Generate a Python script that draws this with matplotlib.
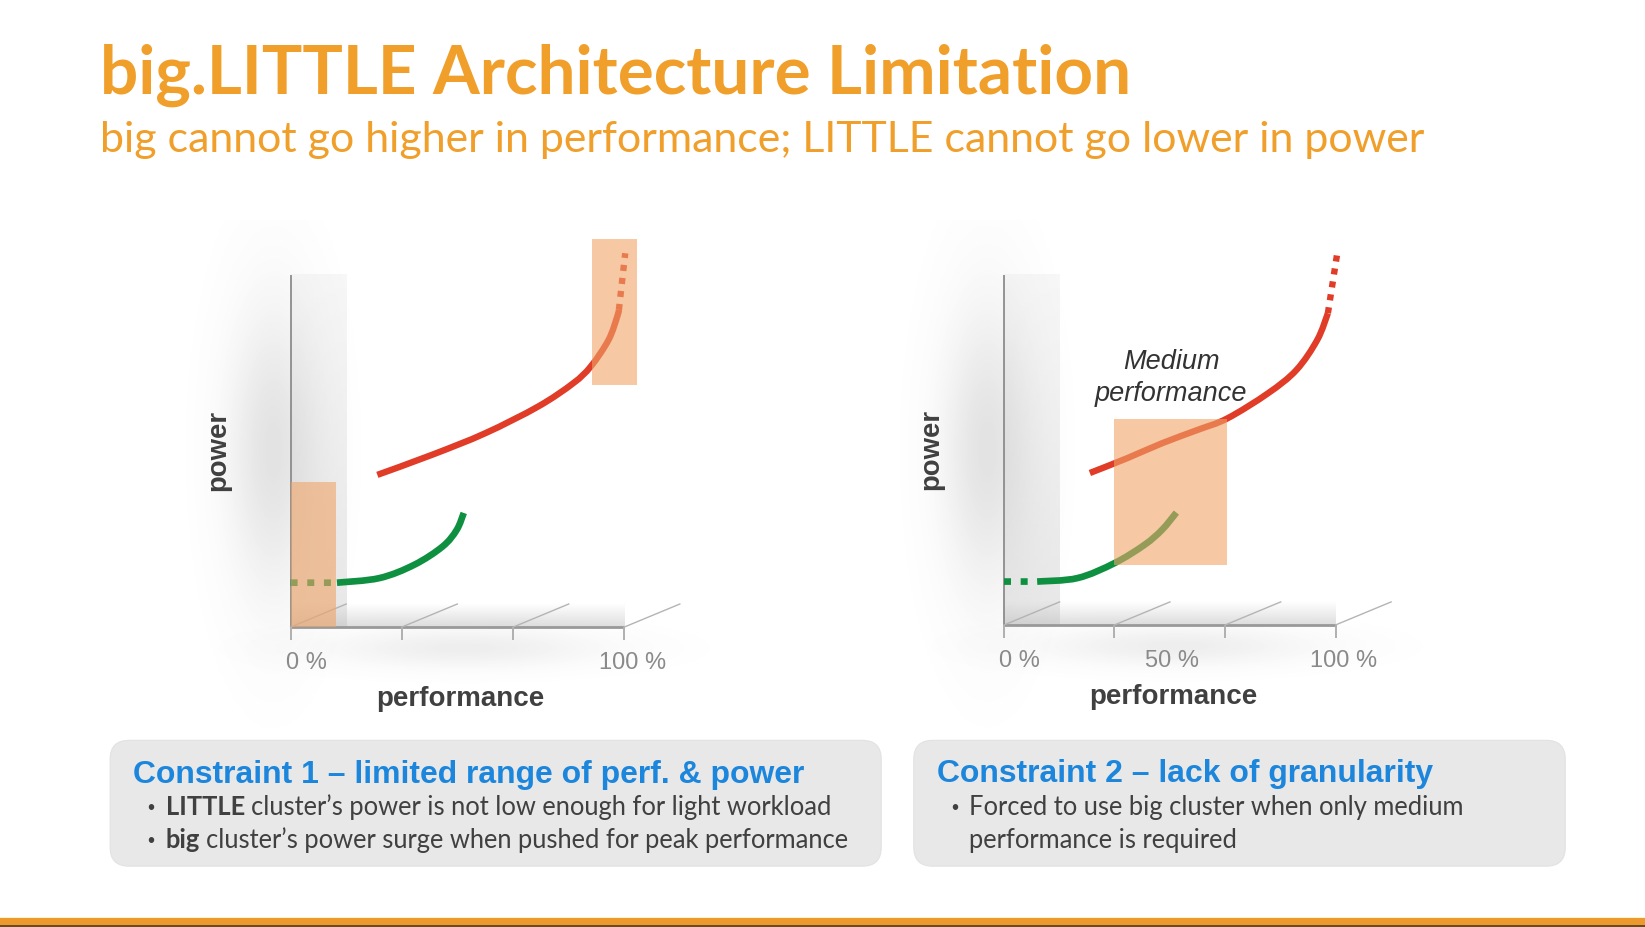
import numpy as np
import matplotlib
matplotlib.use("Agg")
import matplotlib.pyplot as plt
from matplotlib.patches import FancyBboxPatch, Rectangle, PathPatch
from matplotlib.path import Path

# ---------------- data ----------------
TITLE = "big.LITTLE Architecture Limitation"
SUBTITLE = "big cannot go higher in performance; LITTLE cannot go lower in power"
X_LABEL = "performance"
Y_LABEL = "power"
TICKS = [0, 33.3, 66.7, 100]
L_TICK_VALUES = [0, 100]
L_TICK_LABELS = ["0 %", "100 %"]
R_TICK_VALUES = [0, 50, 100]
R_TICK_LABELS = ["0 %", "50 %", "100 %"]

# chart 1 : limited range
L_BIG_PERF = [26.0, 42.4, 58.3, 74.2, 84.7, 90.0, 95.3, 97.9, 98.4]
L_BIG_POWER = [43.2, 48.9, 55.0, 62.6, 69.2, 74.0, 81.5, 88.1, 90.0]
L_BIG_EXT_PERF = [98.4, 100.3]
L_BIG_EXT_POWER = [90.0, 106.1]
L_LITTLE_PERF = [13.9, 26.6, 37.1, 45.6, 49.8, 51.9]
L_LITTLE_POWER = [12.6, 13.9, 17.7, 22.9, 27.6, 32.4]
L_LITTLE_EXT_PERF = [0.0, 13.9]
L_LITTLE_EXT_POWER = [12.6, 12.6]
L_HILITE_PERF = [(0.0, 13.6), (90.3, 103.7)]
L_HILITE_POWER = [(0.0, 41.3), (68.75, 110.1)]

# chart 2 : lack of granularity
R_BIG_PERF = [25.9, 37.1, 47.7, 58.4, 67.4, 79.7, 88.2, 94.5, 97.7]
R_BIG_POWER = [43.4, 47.6, 51.9, 55.7, 59.0, 66.2, 72.8, 81.4, 89.0]
R_BIG_EXT_PERF = [97.7, 100.6]
R_BIG_EXT_POWER = [89.0, 106.6]
R_LITTLE_PERF = [10.0, 22.2, 33.4, 42.4, 47.7, 52.0]
R_LITTLE_POWER = [12.4, 13.4, 17.7, 22.9, 27.2, 32.1]
R_LITTLE_EXT_PERF = [0.0, 10.0]
R_LITTLE_EXT_POWER = [12.4, 12.4]
R_HILITE_PERF = [(33.2, 67.2)]
R_HILITE_POWER = [(17.2, 58.9)]
R_NOTE = ["Medium", "performance"]

BOX1_HEAD = "Constraint 1 \u2013 limited range of perf. & power"
BOX1_LINES = [[("LITTLE", "bold"), ("cluster\u2019s power is not low enough for light workload", "normal")],
              [("big", "bold"), ("cluster\u2019s power surge when pushed for peak performance", "normal")]]
BOX2_HEAD = "Constraint 2 \u2013 lack of granularity"
BOX2_LINES = [[("Forced to use big cluster when only medium", "normal")],
              [("performance is required", "normal")]]

# ---------------- style ----------------
ORANGE = "#F09F2A"
RED = "#E03C28"
GREEN = "#0F9040"
BLUE = "#1C86DC"
DARK = "#404040"
TICKGRAY = "#8A8A8A"
HILITE = "#F0A567"

W, H = 1645, 927
DW, DH = 1568, 884           # layout grid units
SC = W / DW

fig = plt.figure(figsize=(W / 100, H / 100), dpi=100)
fig.patch.set_facecolor("white")
bg = fig.add_axes([0, 0, 1, 1])
bg.set_xlim(0, DW)
bg.set_ylim(DH, 0)
bg.axis("off")
R = fig.canvas.get_renderer()


def width_of(s, fs, weight="normal", family="Lato", style="normal"):
    t = bg.text(0, 0, s, fontsize=fs, fontweight=weight, family=family, fontstyle=style)
    w = t.get_window_extent(R).width / SC
    t.remove()
    return w


def fit_text(x, y, s, target, family="Lato", weight="normal", **kw):
    fs = 30 * target / width_of(s, 30, weight, family)
    return bg.text(x, y, s, fontsize=fs, family=family, fontweight=weight, **kw), fs


# title & subtitle
fit_text(95, 89, TITLE, 982, family="Lato", weight="bold", color=ORANGE, va="baseline")
fit_text(95, 145, SUBTITLE, 1263, family="Lato", weight="normal", color=ORANGE, va="baseline")

# bottom bar
bg.add_patch(Rectangle((0, 874), DW, 1.2, color="#FFF3C8", lw=0))
bg.add_patch(Rectangle((0, 875.2), DW, 7.0, color="#EC9A2E", lw=0))
bg.add_patch(Rectangle((0, 882.2), DW, 1.8, color="#6B4A1E", lw=0))

# constraint boxes
for (x0, x1) in [(105, 840), (871, 1492)]:
    bg.add_patch(FancyBboxPatch((x0, 706), x1 - x0, 120,
                                boxstyle="round,pad=0,rounding_size=18",
                                fc="#E8E8E8", ec="#E2E2E2", lw=0.8, zorder=1))

fit_text(127, 747, BOX1_HEAD, 641, family="Liberation Sans", weight="bold", color=BLUE, va="baseline", zorder=3)
fit_text(893, 746, BOX2_HEAD, 473, family="Liberation Sans", weight="bold", color=BLUE, va="baseline", zorder=3)


def gap(fs):
    return 0.23 * fs * (100 / 72) / SC


def runs_width(runs, fs):
    return sum(width_of(s, fs, w) for s, w in runs) + gap(fs) * (len(runs) - 1)


bullet_fs = 30 * 651 / runs_width(BOX1_LINES[1], 30)


def draw_runs(x, y, runs, fs, bullet=True):
    if bullet:
        bg.text(x + 4, y - 1, "\u2022", fontsize=fs * 0.8, family="Liberation Sans",
                color=DARK, va="baseline", ha="center", zorder=3)
    cx = x + 18
    for s, w in runs:
        bg.text(cx, y, s, fontsize=fs, family="Lato", fontweight=w, color=DARK, va="baseline", zorder=3)
        cx += width_of(s, fs, w) + gap(fs)


draw_runs(140, 777, BOX1_LINES[0], bullet_fs)
draw_runs(140, 809, BOX1_LINES[1], bullet_fs)
draw_runs(906, 777, BOX2_LINES[0], bullet_fs)
draw_runs(906, 809, BOX2_LINES[1], bullet_fs, bullet=False)


# ---------------- charts ----------------
def soft_blob(ax, cx, cy, sx, sy, amax, z=0.5):
    xs = np.linspace(-3, 3, 200)
    X, Y = np.meshgrid(xs, xs)
    a = amax * np.exp(-0.5 * (X ** 2 + Y ** 2))
    img = np.zeros((200, 200, 4))
    img[..., :3] = 0.45
    img[..., 3] = a
    ax.imshow(img, extent=[cx - 3 * sx, cx + 3 * sx, cy - 3 * sy, cy + 3 * sy],
              origin="lower", aspect="auto", zorder=z, interpolation="bilinear")


def smooth_path(xs, ys):
    P = np.column_stack([xs, ys]).astype(float)
    n = len(P)
    verts = [P[0]]
    codes = [Path.MOVETO]
    for i in range(n - 1):
        p0 = P[i - 1] if i > 0 else P[i]
        p1, p2 = P[i], P[i + 1]
        p3 = P[i + 2] if i + 2 < n else P[i + 1]
        verts += [p1 + (p2 - p0) / 6.0, p2 - (p3 - p1) / 6.0, p2]
        codes += [Path.CURVE4] * 3
    return Path(verts, codes)


def curve(ax, xs, ys, color, lw, ls="-"):
    ax.add_patch(PathPatch(smooth_path(xs, ys), fill=False, ec=color, lw=lw, ls=ls,
                           capstyle="butt", joinstyle="round", zorder=3))


def make_chart(region, x0, x100, ybase, ytop, big, big_ext, little, little_ext,
               hl_perf, hl_power, tick_vals, tick_labels):
    rx0, rx1, ry0, ry1 = region
    sx = (x100 - x0) / 100.0
    sy = (ybase - ytop) / 100.0
    ax = fig.add_axes([rx0 / DW, 1 - ry1 / DH, (rx1 - rx0) / DW, (ry1 - ry0) / DH])
    ax.set_xlim((rx0 - x0) / sx, (rx1 - x0) / sx)
    ax.set_ylim((ybase - ry1) / sy, (ybase - ry0) / sy)
    ax.axis("off")
    ax.patch.set_alpha(0)

    wall_w = 53 / sx
    depth = 22 / sy

    # soft shadows
    soft_blob(ax, -16 / sx, 50, 30 / sx, 95 / sy, 0.20)
    soft_blob(ax, 52, -6, 90 / sx, 13 / sy, 0.12)

    # wall
    wimg = np.zeros((100, 2, 4))
    wimg[..., :3] = 0.80
    wimg[..., 3] = np.linspace(0.45, 0.15, 100)[:, None]
    ax.imshow(wimg, extent=[0, wall_w, 0, 100], origin="lower", aspect="auto",
              zorder=1, interpolation="bilinear")
    # floor
    fimg = np.zeros((50, 2, 4))
    fimg[..., :3] = 0.72
    fimg[..., 3] = np.linspace(0.45, 0.0, 50)[:, None]
    ax.imshow(fimg, extent=[0, 100, 0, depth], origin="lower", aspect="auto",
              zorder=1, interpolation="bilinear")

    # axes frame
    ax.plot([0, 0], [0, 100], color="#8C8C8C", lw=1.3, zorder=2, solid_capstyle="butt")
    ax.plot([0, 100], [0, 0], color="#999999", lw=2.0, zorder=2, solid_capstyle="butt")
    for t in TICKS:
        ax.plot([t, t + wall_w], [0, depth], color="#B4B4B4", lw=1.0, zorder=2)
        ax.plot([t, t], [0, -12 / sy], color="#B0B0B0", lw=1.4, zorder=2, solid_capstyle="butt")

    # curves
    curve(ax, *big, RED, 4.6)
    curve(ax, *big_ext, RED, 4.6, ls=(0, (0.95, 1.1)))
    curve(ax, *little, GREEN, 4.8)
    curve(ax, *little_ext, GREEN, 4.8, ls=(0, (1.05, 1.45)))

    # highlight boxes
    for (p0, p1), (w0, w1) in zip(hl_perf, hl_power):
        ax.add_patch(Rectangle((p0, w0), p1 - p0, w1 - w0, fc=HILITE, alpha=0.6, lw=0, zorder=4))

    # labels
    for v, lab in zip(tick_vals, tick_labels):
        off = 15 if v == 0 else (8 if v == 100 else 2)
        ax.text(v + off / sx, -34 / sy, lab, ha="center", va="center",
                fontsize=17, family="Liberation Sans", color=TICKGRAY, zorder=5)
    ax.text(50 + 3 / sx, -69 / sy, X_LABEL, ha="center", va="center", fontsize=20,
            family="Liberation Sans", fontweight="bold", color=DARK, zorder=5)
    ax.text(-69 / sx, 50, Y_LABEL, ha="center", va="center", rotation=90, fontsize=19.8,
            family="Liberation Sans", fontweight="bold", color=DARK, zorder=5)
    return ax, sx, sy


make_chart((160, 690, 210, 705), 277, 595, 598, 262,
           (L_BIG_PERF, L_BIG_POWER), (L_BIG_EXT_PERF, L_BIG_EXT_POWER),
           (L_LITTLE_PERF, L_LITTLE_POWER), (L_LITTLE_EXT_PERF, L_LITTLE_EXT_POWER),
           L_HILITE_PERF, L_HILITE_POWER, L_TICK_VALUES, L_TICK_LABELS)

axr, sxr, syr = make_chart((840, 1370, 210, 705), 957, 1273, 596, 262,
                           (R_BIG_PERF, R_BIG_POWER), (R_BIG_EXT_PERF, R_BIG_EXT_POWER),
                           (R_LITTLE_PERF, R_LITTLE_POWER), (R_LITTLE_EXT_PERF, R_LITTLE_EXT_POWER),
                           R_HILITE_PERF, R_HILITE_POWER, R_TICK_VALUES, R_TICK_LABELS)
axr.text(50.4, 75.2, R_NOTE[0], ha="center", va="center", fontsize=19.5, style="italic",
         family="Liberation Sans", color="#333333", zorder=5)
axr.text(50.4, 66.0, R_NOTE[1], ha="center", va="center", fontsize=19.5, style="italic",
         family="Liberation Sans", color="#333333", zorder=5)

fig.savefig("out.png", dpi=100, facecolor="white")
